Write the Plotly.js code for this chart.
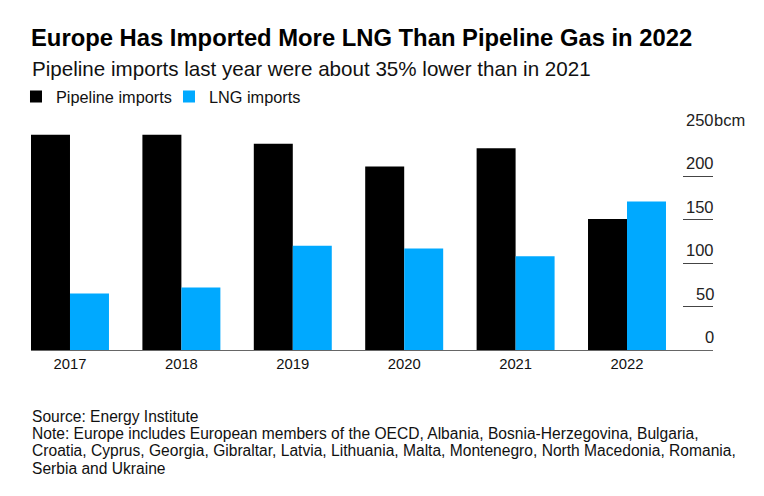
<!DOCTYPE html>
<html>
<head>
<meta charset="utf-8">
<script src="https://cdn.plot.ly/plotly-3.0.1.min.js"></script>
<style>
  html, body { margin: 0; padding: 0; background: #fff; }
  #chart { width: 764px; height: 496px; }
</style>
</head>
<body>
<div id="chart"></div>
<script>
// ---- data ----
const years = ['2017', '2018', '2019', '2020', '2021', '2022'];
const pipelineImports = [248, 248, 237.5, 211.5, 232.5, 151];
const lngImports = [65, 72, 120, 117, 108, 171];
const yTickValues = [0, 50, 100, 150, 200, 250];
const yTickLabels = ['0', '50', '100', '150', '200', '250'];
const yUnit = 'bcm';
const titleText = 'Europe Has Imported More LNG Than Pipeline Gas in 2022';
const subtitleText = 'Pipeline imports last year were about 35% lower than in 2021';
const footerLines = [
  'Source: Energy Institute',
  'Note: Europe includes European members of the OECD, Albania, Bosnia-Herzegovina, Bulgaria,',
  'Croatia, Cyprus, Georgia, Gibraltar, Latvia, Lithuania, Malta, Montenegro, North Macedonia, Romania,',
  'Serbia and Ukraine'
];

const FONT = 'Liberation Sans, Arial, Helvetica, sans-serif';
const H = 496;
const M = { l: 31, r: 51, t: 133, b: 146 };
const plotH = H - M.t - M.b;
const pyToPaper = (py) => (H - M.b - py) / plotH;

const traces = [
  { type: 'bar', name: 'Pipeline imports', x: years, y: pipelineImports,
    marker: { color: '#000000', line: { width: 0 } }, hoverinfo: 'x+y' },
  { type: 'bar', name: 'LNG imports', x: years, y: lngImports,
    marker: { color: '#00A9FF', line: { width: 0 } }, hoverinfo: 'x+y' }
];

const annotations = [];
yTickValues.forEach((v, i) => {
  annotations.push({
    xref: 'paper', yref: 'y', x: 1, y: v, xanchor: 'right', yanchor: 'bottom',
    xshift: 2, yshift: 3, text: yTickLabels[i], showarrow: false, borderpad: 0,
    font: { family: FONT, size: 16.5, color: '#222' }
  });
});
annotations.push({
  xref: 'paper', yref: 'y', x: 1, y: yTickValues[yTickValues.length - 1],
  xanchor: 'left', yanchor: 'bottom', xshift: 0, yshift: 3, text: yUnit, showarrow: false,
  borderpad: 0, font: { family: FONT, size: 16.5, color: '#222' }
});
annotations.push({
  xref: 'paper', yref: 'paper', x: 0, y: pyToPaper(68), xanchor: 'left', yanchor: 'middle',
  text: subtitleText, showarrow: false, borderpad: 0,
  font: { family: FONT, size: 20.6, color: '#111' }
});
footerLines.forEach((t, i) => {
  annotations.push({
    xref: 'paper', yref: 'paper', x: 0, y: pyToPaper(416.7 + i * 17.1),
    xanchor: 'left', yanchor: 'middle', text: t, showarrow: false, borderpad: 0,
    font: { family: FONT, size: 15.6, color: '#111' }
  });
});

const layout = {
  width: 764, height: 496,
  margin: M,
  paper_bgcolor: '#fff', plot_bgcolor: '#fff',
  font: { family: FONT, color: '#111' },
  title: {
    text: '<b>' + titleText + '</b>',
    xref: 'paper', x: 0, xanchor: 'left',
    yref: 'container', y: 1 - 38 / H, yanchor: 'middle',
    font: { family: FONT, size: 23.8, color: '#000' }
  },
  barmode: 'group', bargap: 0.3, bargroupgap: 0,
  xaxis: {
    type: 'category', range: [-0.35, 5.772],
    showgrid: false, zeroline: false,
    showline: true, linecolor: '#666', linewidth: 1,
    ticks: '', tickfont: { family: FONT, size: 14.8, color: '#111' },
    fixedrange: true
  },
  yaxis: {
    range: [0, 250], side: 'right', showgrid: false, zeroline: false,
    showline: false, ticks: 'inside', ticklen: 30, tickwidth: 1, tickcolor: '#444',
    tickvals: yTickValues, showticklabels: false, fixedrange: true
  },
  showlegend: true,
  legend: {
    orientation: 'h', x: -0.022, xanchor: 'left', y: pyToPaper(97), yanchor: 'middle',
    font: { family: FONT, size: 16.3, color: '#111' }, bgcolor: 'rgba(0,0,0,0)',
    traceorder: 'normal', itemclick: false, itemdoubleclick: false,
    entrywidth: 108
  },
  annotations: annotations
};

Plotly.newPlot('chart', traces, layout, { displayModeBar: false, staticPlot: true });
</script>
</body>
</html>
